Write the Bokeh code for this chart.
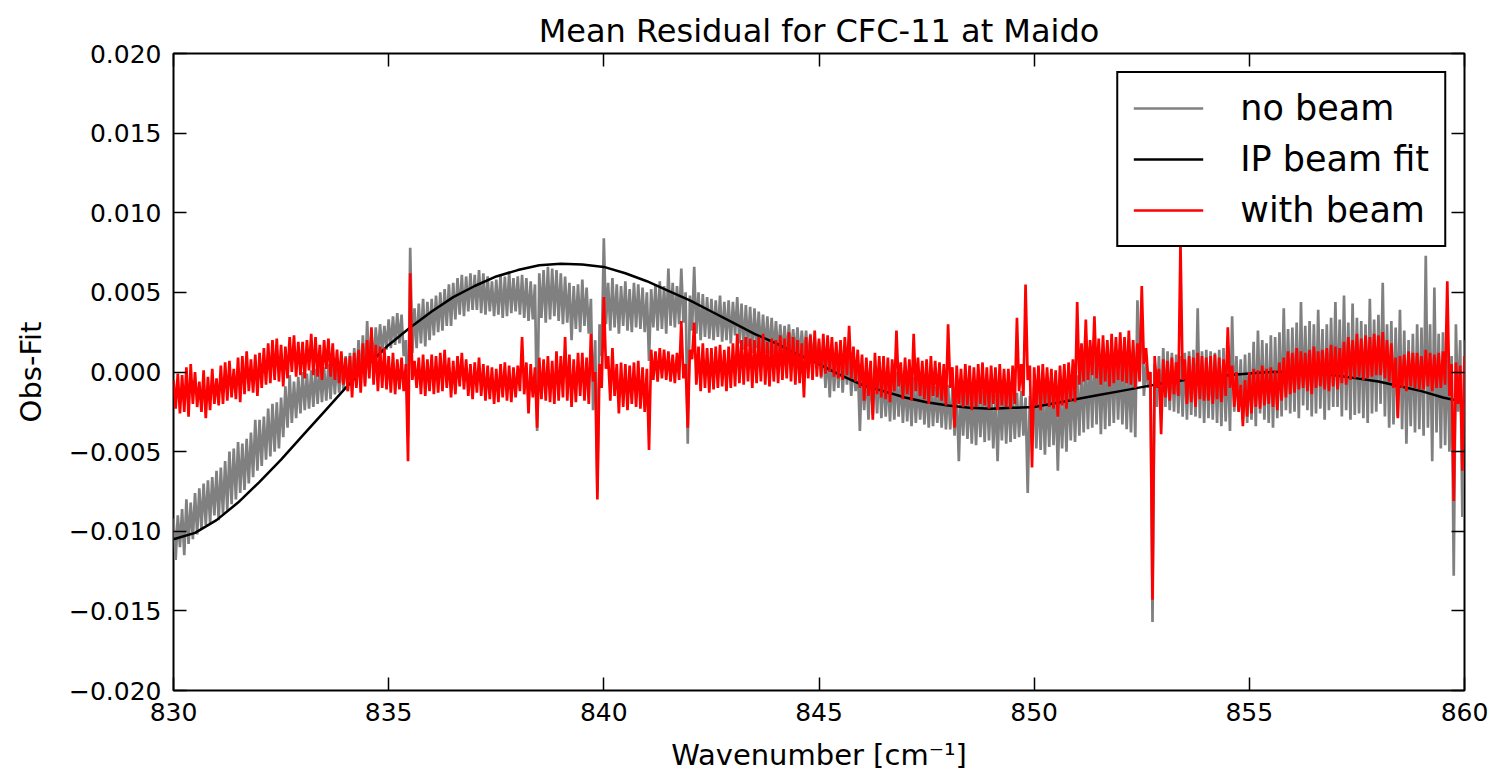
import numpy as np
from bokeh.plotting import figure
from bokeh.models import Range1d, FixedTicker, LinearAxis, Legend, LegendItem
from bokeh.embed import file_html
from bokeh.resources import INLINE

# ---- data (residuals in units of 1e-3, sampled every 0.05 cm-1 from 830) ----
x_start = 830.0
x_step = 0.05
unit = 1e-3

no_beam = [
    -9.2, -11.8, -9.0, -11.0, -8.6, -11.5, -8.0, -10.8, -8.2, -10.5, -7.6, -10.2, -7.3, -9.9, -7.0, -9.6, -6.8, -9.5, -6.6, -9.0,
    -6.2, -9.3, -6.0, -8.9, -5.6, -8.7, -5.0, -8.3, -4.8, -8.0, -4.4, -7.6, -4.5, -7.4, -4.2, -7.0, -3.8, -6.6, -3.0, -6.2,
    -3.0, -5.9, -2.8, -5.5, -2.3, -5.3, -2.0, -5.0, -1.9, -4.8, -1.6, -4.1, -0.9, -3.5, -0.2, -3.2, -0.6, -2.9, -0.3, -2.6,
    0.0, -2.4, -0.1, -2.3, 0.1, -2.2, 0.2, -2.0, 0.4, -1.9, 0.3, -1.8, 0.5, -1.7, 0.6, -1.4, 0.8, -1.3, 0.7, -1.1,
    1.0, -1.2, 1.2, -0.9, 1.5, -0.8, 2.0, -0.6, 2.3, -0.7, 3.2, 0.1, 2.5, 0.3, 2.8, 0.9, 3.0, 1.2, 2.9, 1.4,
    3.3, 1.5, 3.5, 1.7, 3.7, 1.8, 3.6, 1.0, 2.0, -4.0, 7.8, 1.2, 4.0, 1.5, 4.3, 1.8, 4.6, 1.6, 4.4, 2.0,
    4.6, 2.3, 4.8, 2.5, 5.0, 2.6, 5.2, 2.9, 5.5, 2.9, 5.6, 3.3, 5.9, 3.6, 6.1, 3.5, 6.0, 3.8, 6.2, 3.9,
    6.1, 3.9, 6.4, 3.7, 6.2, 3.6, 6.0, 3.8, 5.7, 3.5, 5.8, 3.6, 6.1, 3.4, 6.0, 3.5, 6.3, 3.7, 5.9, 3.8,
    6.0, 3.6, 6.1, 3.4, 5.9, 3.2, 5.7, 3.3, 5.5, -3.7, 6.2, 3.4, 6.4, 3.1, 6.6, 3.3, 6.5, 3.5, 6.4, 3.2,
    6.2, 3.0, 6.0, 3.1, 5.6, 2.0, 5.4, 2.7, 5.5, 2.5, 5.8, 2.9, 5.3, 2.4, 4.6, -2.4, 2.0, -7.5, 3.0, 1.0,
    8.4, 3.0, 5.6, 2.6, 5.9, 2.8, 5.5, 2.4, 5.4, 2.9, 5.7, 2.6, 5.2, 2.5, 5.6, 2.8, 5.5, 2.7, 5.3, 2.5,
    5.0, 0.7, 5.2, 2.8, 5.5, 2.6, 5.7, 2.7, 5.4, 2.4, 6.5, 2.9, 5.6, 2.8, 5.4, 3.0, 6.5, 3.1, 5.0, -4.5,
    4.8, 2.6, 6.6, 2.4, 5.0, 2.0, 4.9, 2.2, 4.7, 2.1, 4.6, 2.0, 4.5, 2.2, 4.8, 1.9, 4.4, 2.0, 4.5, 1.8,
    4.4, 2.3, 4.7, 1.8, 4.3, 1.4, 4.2, 1.6, 4.1, 1.2, 4.0, 1.5, 3.8, 1.3, 3.6, 1.2, 3.5, 1.1, 3.4, 1.2,
    3.2, 1.0, 3.0, 0.8, 2.9, 0.9, 3.0, 1.1, 2.7, 1.0, 2.8, 0.7, 2.6, 0.8, 2.6, 0.5, 2.4, 0.6, 2.2, 0.2,
    1.9, -0.4, 1.8, -1.0, 1.3, -1.6, 1.5, -1.2, 1.2, -1.0, 1.6, -1.3, 1.0, -0.8, 1.2, -1.5, 0.8, -1.2, 0.5, -3.7,
    0.3, -2.4, 0.1, -3.0, 0.2, -2.7, 0.3, -2.6, 0.4, -2.9, -0.1, -2.8, -0.2, -3.1, 0.0, -3.0, 0.0, -2.8, -0.3, -3.2,
    -0.4, -3.1, -0.5, -3.4, -0.3, -3.2, -0.6, -3.0, -0.8, -3.3, -0.7, -3.5, -0.6, -3.4, -0.9, -3.2, -0.9, -3.5, -0.8, -3.6,
    -0.8, -3.6, -1.0, -4.0, -1.3, -5.6, -1.0, -4.0, -1.1, -4.2, -1.2, -4.5, -1.3, -4.6, -1.0, -4.1, -1.2, -4.4, -0.9, -4.3,
    -1.1, -4.8, -1.4, -5.6, -1.2, -4.3, -1.1, -4.5, -1.0, -4.4, -1.2, -4.2, -1.3, -4.1, -1.2, -4.0, -1.6, -7.6, -1.5, -4.0,
    -0.9, -4.8, -0.8, -4.9, -0.9, -5.2, -1.0, -4.7, -0.7, -4.6, -1.1, -6.2, -1.2, -4.8, -0.8, -5.0, -0.6, -4.3, -0.5, -4.4,
    -0.2, -4.0, 0.5, -3.8, 0.8, -3.6, 0.9, -3.5, 1.2, -3.3, 1.0, -3.9, 0.6, -3.6, 1.1, -3.4, 1.5, -3.2, 1.3, -3.0,
    0.9, -3.3, 0.7, -3.6, 0.5, -3.8, 0.8, -4.1, 4.5, 1.0, 3.0, -1.5, 0.5, -1.0, 0.0, -15.7, 0.5, -2.2, 1.0, -2.6,
    1.5, -2.2, 1.3, -2.4, 1.2, -2.5, 1.1, -2.6, 1.0, -2.8, 1.2, -3.0, 1.3, -2.7, 1.4, -2.8, 4.0, -2.9, 1.3, -3.2,
    1.4, -2.9, 1.3, -3.0, 1.2, -3.2, 1.4, -3.4, 1.5, -3.1, 1.2, -3.7, 3.5, -2.5, 1.0, -2.4, 0.8, -3.0, 1.1, -3.2,
    1.2, -3.0, 1.9, -3.4, 2.6, -2.6, 2.0, -3.0, 1.8, -3.2, 2.3, -3.5, 2.2, -2.9, 2.5, -2.8, 4.0, -2.4, 2.7, -2.6,
    2.8, -2.5, 3.1, -2.9, 4.4, -2.1, 2.9, -2.4, 3.2, -2.8, 3.0, -2.6, 3.9, -2.3, 2.7, -3.0, 3.0, -2.4, 3.4, -2.2,
    4.4, -2.2, 3.3, -2.8, 4.8, -2.4, 3.1, -3.0, 4.3, -2.7, 3.4, -2.6, 3.2, -2.9, 3.0, -3.2, 4.6, -2.6, 3.3, -2.5,
    3.6, -2.0, 5.6, -2.8, 3.0, -3.5, 3.2, -3.3, 2.8, -2.8, 3.9, -3.6, 2.6, -4.5, 2.0, -3.4, 2.4, -3.8, 3.0, -3.6,
    2.8, -4.0, 7.3, -3.5, 3.0, -5.6, 5.3, -3.8, 2.4, -4.8, 2.5, -4.6, 2.0, -5.0, 1.0, -12.8, 3.0, -2.5, 2.0, -9.1,
    2.0,
]

with_beam = [
    -0.5, -2.3, -0.1, -2.6, -0.2, -2.5, 0.3, -2.8, 0.5, -2.0, 0.0, -2.2, -0.6, -2.5, 0.1, -2.9, -0.3, -2.4, 0.2, -2.0,
    -0.4, -2.1, 0.4, -2.0, 0.6, -1.8, 0.7, -1.6, 0.2, -1.7, 0.9, -1.9, 1.0, -1.4, 1.3, -1.2, 0.8, -1.3, 1.1, -1.5,
    1.2, -1.0, 1.5, -0.8, 1.8, -0.7, 2.0, -0.5, 2.1, -0.6, 1.7, -0.9, 1.6, -0.4, 2.2, 0.0, 2.3, -0.3, 1.9, -0.2,
    1.9, -0.4, 2.0, 0.1, 2.4, -0.2, 2.2, -0.3, 1.7, -0.5, 2.0, 0.2, 2.1, -0.3, 1.8, -0.5, 1.4, -0.7, 1.3, -0.8,
    0.9, -1.2, 1.0, -1.6, 1.2, -1.0, 1.4, -1.3, 1.8, -0.9, 2.0, -0.4, 2.8, -0.8, 1.7, -1.2, 1.6, -1.0, 1.5, -1.1,
    1.0, -1.3, 1.2, -1.4, 0.8, -1.1, 0.9, -1.2, 0.5, -5.6, 6.2, -0.5, 0.7, -1.0, 0.9, -1.4, 1.1, -1.5, 0.8, -1.2,
    1.1, -1.4, 1.0, -1.3, 1.2, -1.2, 1.4, -1.0, 0.9, -1.6, 0.7, -1.4, 1.0, -0.9, 1.2, -1.1, 0.8, -1.5, 0.5, -1.7,
    0.6, -1.3, 0.9, -1.5, 0.5, -1.8, 0.4, -1.7, 0.3, -2.0, 0.2, -1.9, 0.5, -1.6, 0.6, -1.8, 0.4, -1.9, 0.3, -1.6,
    0.4, -1.2, 2.2, -1.4, 0.6, -2.6, 0.5, -1.6, 0.3, -3.5, 0.9, -1.7, 0.8, -1.8, 1.0, -1.9, 0.7, -2.0, 1.3, -1.8,
    1.0, -1.6, 2.2, -1.8, 1.1, -2.2, 0.8, -1.9, 1.2, -1.5, 1.2, -1.8, 0.9, -2.0, 2.4, -0.6, 0.0, -8.0, 0.5, -1.0,
    4.7, 0.2, 1.0, -1.8, 1.5, -1.5, 0.5, -2.6, 0.6, -2.2, 0.5, -2.4, 0.4, -2.0, 0.6, -2.2, 0.7, -2.3, 0.3, -2.5,
    0.2, -4.9, 1.4, -0.5, 1.3, -0.6, 1.5, -0.4, 1.4, -0.5, 1.3, -0.6, 1.1, -0.7, 1.2, -0.5, 3.2, -0.4, 0.5, -3.5,
    1.4, 0.8, 3.1, -0.8, 1.6, -1.2, 1.8, -1.0, 1.5, -1.3, 1.5, -1.1, 1.6, -1.0, 1.7, -0.9, 1.4, -1.2, 1.6, -1.0,
    1.8, -0.9, 2.4, -0.7, 2.0, -0.8, 2.2, -0.6, 2.1, -1.0, 2.0, -0.7, 2.2, -0.6, 2.4, -0.8, 1.9, -0.9, 2.1, -0.6,
    2.0, -0.7, 2.3, -0.5, 2.1, -0.4, 2.5, -0.6, 2.2, -0.8, 2.0, -0.7, 1.8, -1.6, 2.2, -0.4, 2.3, -0.5, 2.6, -0.3,
    2.1, -0.3, 2.4, -0.1, 2.3, 0.0, 2.2, -0.3, 1.9, -0.4, 2.0, -0.5, 2.2, -0.2, 2.9, -0.4, 1.6, -0.6, 1.4, -1.0,
    1.1, -1.8, 0.9, -1.5, 0.7, -3.0, 1.2, -1.4, 1.0, -1.6, 1.0, -1.7, 0.9, -1.9, 0.8, -1.2, 2.6, -0.9, 0.6, -1.7,
    0.9, -1.4, 0.8, -1.8, 2.4, -1.2, 0.9, -1.5, 0.7, -1.7, 0.8, -2.0, 1.0, -1.5, 0.7, -1.6, 0.6, -1.8, 0.5, -2.1,
    3.0, -1.0, 0.3, -3.5, 0.4, -2.0, 0.2, -2.2, 0.5, -2.1, 0.4, -2.4, 0.3, -2.2, 0.5, -2.0, 0.6, -2.1, 0.3, -2.3,
    0.4, -2.0, 0.3, -2.4, 0.5, -2.1, 0.2, -2.2, 0.2, -2.3, 0.4, -2.0, 3.4, -1.2, 0.5, -1.5, 5.5, -0.5, 0.4, -6.0,
    0.3, -2.1, 0.4, -2.4, 0.5, -2.0, 0.3, -2.2, 0.2, -2.3, 0.1, -2.8, 0.4, -2.1, 0.5, -2.3, 0.6, -1.8, 0.8, -1.9,
    4.4, -0.8, 1.8, -0.6, 3.3, -0.5, 2.0, -0.2, 3.5, -0.4, 2.1, -0.8, 2.3, -0.6, 2.0, -0.9, 2.4, -0.7, 2.2, -0.5,
    2.5, -0.6, 2.2, -0.7, 2.6, -0.8, 2.0, -1.0, 1.8, -0.6, 5.4, 0.5, 1.5, -0.5, 0.0, -14.3, 1.0, -1.0, 0.2, -3.9,
    0.8, -1.6, 0.7, -1.8, 0.9, -1.4, 0.6, -1.5, 8.1, -0.5, 0.8, -2.0, 1.0, -1.9, 0.9, -2.2, 1.2, -1.7, 1.0, -1.8,
    0.9, -1.8, 1.0, -2.0, 1.1, -1.7, 0.9, -1.9, 0.8, -1.5, 2.8, -1.0, 0.4, -2.2, 0.0, -2.5, -0.8, -3.4, -0.5, -2.8,
    0.0, -2.6, 0.2, -2.2, 0.1, -2.3, 0.4, -2.1, 0.2, -2.0, 0.3, -2.2, 0.1, -2.4, 0.6, -1.8, 0.9, -1.6, 1.3, -1.4,
    1.2, -1.3, 1.5, -1.1, 1.3, -1.0, 1.2, -1.2, 1.4, -1.4, 1.6, -1.0, 1.3, -0.9, 1.4, -1.1, 1.5, -1.2, 1.7, -0.9,
    1.6, -1.1, 1.5, -0.7, 1.9, -0.8, 2.2, -0.5, 2.0, -0.4, 2.4, -0.3, 2.1, -0.5, 2.3, -0.4, 2.2, -0.3, 2.4, -0.2,
    2.3, -0.2, 2.5, -0.4, 2.0, -0.6, 1.8, -1.0, 0.9, -2.9, 1.0, -1.0, 1.1, -1.2, 1.3, -0.9, 1.2, -1.0, 1.2, -1.1,
    1.0, -1.1, 1.4, -0.9, 1.2, -1.2, 1.1, -1.0, 1.2, -1.0, 1.3, -0.8, 5.7, -1.5, 0.5, -8.1, 0.6, -2.0, 0.4, -6.2,
    1.0,
]

fit_x = [830.0, 830.5, 831.0, 831.5, 832.0, 832.5, 833.0, 833.5, 834.0, 834.5,
         835.0, 835.5, 836.0, 836.5, 837.0, 837.5, 838.0, 838.5, 839.0, 839.5,
         840.0, 840.5, 841.0, 841.5, 842.0, 842.5, 843.0, 843.5, 844.0, 844.5,
         845.0, 845.5, 846.0, 846.5, 847.0, 847.5, 848.0, 848.5, 849.0, 849.5,
         850.0, 850.5, 851.0, 851.5, 852.0, 852.5, 853.0, 853.5, 854.0, 854.5,
         855.0, 855.5, 856.0, 856.5, 857.0, 857.5, 858.0, 858.5, 859.0, 859.5,
         860.0]
ip_beam_fit = [-10.5, -10.1, -9.3, -8.2, -6.9, -5.5, -4.0, -2.5, -1.0, 0.4,
               1.7, 2.8, 3.8, 4.7, 5.4, 6.0, 6.4, 6.7, 6.8, 6.75,
               6.6, 6.2, 5.7, 5.1, 4.5, 3.8, 3.1, 2.4, 1.8, 1.1,
               0.5, -0.2, -0.8, -1.2, -1.6, -1.9, -2.1, -2.25, -2.3, -2.25,
               -2.2, -1.95, -1.7, -1.45, -1.2, -0.95, -0.7, -0.5, -0.35, -0.2,
               -0.1, 0.0, 0.0, -0.05, -0.2, -0.4, -0.6, -0.9, -1.2, -1.6,
               -1.9]

x_ticks = [830, 835, 840, 845, 850, 855, 860]
y_ticks = [-0.020, -0.015, -0.010, -0.005, 0.0, 0.005, 0.010, 0.015, 0.020]
y_tick_labels = ["\u22120.020", "\u22120.015", "\u22120.010", "\u22120.005", "0.000",
                 "0.005", "0.010", "0.015", "0.020"]

assert len(no_beam) == len(with_beam) == 601

wn = np.round(x_start + x_step * np.arange(len(no_beam)), 3)
y_nb = np.array(no_beam) * unit
y_wb = np.array(with_beam) * unit
y_fit = np.array(ip_beam_fit) * unit

FONT = "DejaVu Sans"

p = figure(width=1489, height=779, output_backend="svg", toolbar_location=None,
           x_range=Range1d(830, 860), y_range=Range1d(-0.02, 0.02),
           x_axis_location=None, y_axis_location=None,
           min_border_left=173, min_border_right=25,
           min_border_top=53, min_border_bottom=89)
p.background_fill_color = "white"
p.border_fill_color = "white"
p.outline_line_color = "black"
p.outline_line_width = 2
p.grid.visible = False

p.title.text = "Mean Residual for CFC-11 at Maido"
p.title.align = "center"
p.title.text_font = FONT
p.title.text_font_size = "32px"
p.title.text_font_style = "normal"
p.title.text_color = "black"
p.title.standoff = 8


def style_axis(ax, ticks, labels):
    ax.ticker = FixedTicker(ticks=ticks)
    ax.axis_line_color = None
    ax.major_tick_in = 13
    ax.major_tick_out = 0
    ax.major_tick_line_color = "black"
    ax.major_tick_line_width = 1.5
    ax.minor_tick_line_color = None
    ax.major_label_text_font = FONT
    ax.major_label_text_color = "black"
    ax.axis_label_text_font = FONT
    ax.axis_label_text_font_style = "normal"
    ax.axis_label_text_color = "black"
    ax.axis_label_text_font_size = "29px"
    if labels:
        ax.major_label_text_font_size = "25px"
        ax.major_label_standoff = 12
    else:
        ax.major_label_overrides = {t: "" for t in ticks}
        ax.major_label_text_font_size = "1px"
        ax.major_label_text_color = None
        ax.major_label_standoff = 0


xb = LinearAxis(axis_label="Wavenumber [cm\u207b\u00b9]")
style_axis(xb, x_ticks, True)
xb.axis_label_standoff = 14
p.add_layout(xb, "below")

yl = LinearAxis(axis_label="Obs-Fit")
style_axis(yl, y_ticks, True)
yl.major_label_overrides = {t: s for t, s in zip(y_ticks, y_tick_labels)}
yl.axis_label_standoff = 18
p.add_layout(yl, "left")

xt = LinearAxis()
style_axis(xt, x_ticks, False)
p.add_layout(xt, "above")

yr = LinearAxis()
style_axis(yr, y_ticks, False)
p.add_layout(yr, "right")

r_nb = p.line(wn, y_nb, line_color="#808080", line_width=2.7)
r_fit = p.line(fit_x, y_fit, line_color="black", line_width=2.5)
r_wb = p.line(wn, y_wb, line_color="#ff0000", line_width=2.7)

legend = Legend(items=[LegendItem(label="no beam", renderers=[r_nb]),
                       LegendItem(label="IP beam fit", renderers=[r_fit]),
                       LegendItem(label="with beam", renderers=[r_wb])],
                location="top_right")
legend.label_text_font = FONT
legend.label_text_font_size = "35px"
legend.label_text_color = "black"
legend.glyph_width = 70
legend.glyph_height = 38
legend.label_height = 38
legend.label_standoff = 37
legend.spacing = 11
legend.padding = 15
legend.margin = 18
legend.border_line_color = "black"
legend.border_line_alpha = 1.0
legend.border_line_width = 2
legend.background_fill_alpha = 1.0
p.add_layout(legend)

open("out.html", "w").write(file_html(p, INLINE))
